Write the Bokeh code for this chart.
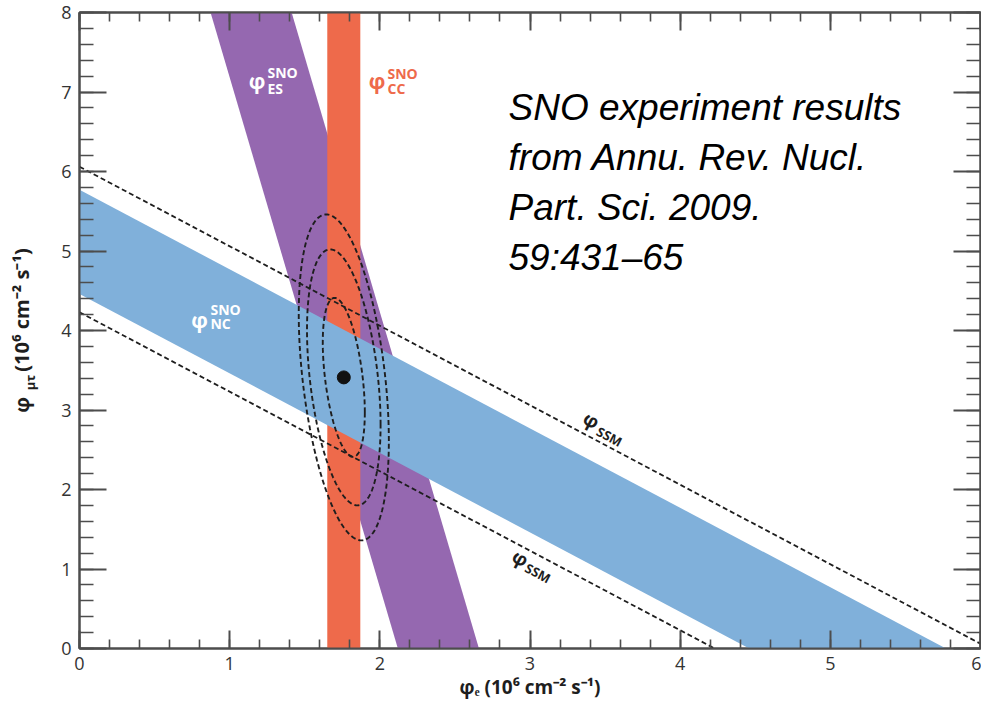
import numpy as np
from bokeh.plotting import figure
from bokeh.models import LinearAxis, SingleIntervalTicker, Label, CustomJSTickFormatter
from bokeh.embed import file_html
from bokeh.resources import INLINE

# Flux bands, in units of 10^6 cm^-2 s^-1
cc_band = [1.65, 1.87]          # phi_e range allowed by charged-current events
es_band = [2.12, 2.66]          # phi_e + es_weight * phi_mutau allowed by elastic scattering
es_weight = 0.1559
nc_band = [4.46, 5.77]          # phi_e + phi_mutau allowed by neutral-current events
ssm_band = [4.23, 6.06]         # phi_e + phi_mutau predicted by the standard solar model

# Best fit and its 68 / 95 / 99 % contours
best_fit = [1.76, 3.41]
contour_sx = [0.14, 0.245, 0.30]
contour_sy = [1.00, 1.61, 2.05]
contour_rho = [-0.44, -0.37, -0.39]

x_ticks = [0, 1, 2, 3, 4, 5, 6]
y_ticks = [0, 1, 2, 3, 4, 5, 6, 7, 8]

X_MAX, Y_MAX = x_ticks[-1], y_ticks[-1]

PURPLE = "#9568b0"
ORANGE = "#ee6a4b"
BLUE = "#80b0da"
INK = "#1e1e1e"
AXIS = "#4d4d4d"
EN, EM = "\u2002", "\u2003"

p = figure(width=981, height=707, x_range=(0, X_MAX), y_range=(0, Y_MAX),
           output_backend="svg", toolbar_location=None,
           min_border_left=79, min_border_right=1, min_border_top=12, min_border_bottom=59,
           background_fill_color="white", border_fill_color="white")
p.grid.visible = False
p.outline_line_color = AXIS
p.outline_line_width = 2

# ES band: x + w*y between the two limits
p.patch([es_band[0], es_band[1], es_band[1] - es_weight * Y_MAX, es_band[0] - es_weight * Y_MAX],
        [0, 0, Y_MAX, Y_MAX], fill_color=PURPLE, line_color=None)
# CC band: vertical strip
p.patch([cc_band[0], cc_band[1], cc_band[1], cc_band[0]], [0, 0, Y_MAX, Y_MAX],
        fill_color=ORANGE, line_color=None)
# NC band: x + y between the two limits
p.patch([0, 0, nc_band[1], nc_band[0]], [nc_band[0], nc_band[1], 0, 0],
        fill_color=BLUE, line_color=None)

# SSM prediction lines
for s in ssm_band:
    xe = min(s, X_MAX)
    p.line([0, xe], [s, s - xe], line_color=INK, line_width=1.8, line_dash="5 3")

# Confidence contours around the best fit
t = np.linspace(0, 2 * np.pi, 240)
for sx, sy, rho in zip(contour_sx, contour_sy, contour_rho):
    ex = best_fit[0] + sx * np.cos(t)
    ey = best_fit[1] + sy * (rho * np.cos(t) + np.sqrt(1 - rho ** 2) * np.sin(t))
    p.line(ex, ey, line_color=INK, line_width=1.9, line_dash="5 3")

p.scatter([best_fit[0]], [best_fit[1]], size=13, color="#111111")


def style_axis(ax, major_in, minor_in, labelled):
    ax.ticker = SingleIntervalTicker(interval=1, num_minor_ticks=5)
    ax.major_tick_in = major_in
    ax.major_tick_out = 0
    ax.minor_tick_in = minor_in
    ax.minor_tick_out = 0
    ax.axis_line_color = AXIS
    ax.axis_line_width = 2
    ax.major_tick_line_color = AXIS
    ax.major_tick_line_width = 2
    ax.minor_tick_line_color = AXIS
    ax.minor_tick_line_width = 1.6
    if labelled:
        ax.major_label_text_font = "Open Sans"
        ax.major_label_text_font_size = "18px"
        ax.major_label_text_color = "#333333"
        ax.major_label_standoff = 8
    else:
        ax.formatter = CustomJSTickFormatter(code="return ''")
        ax.major_label_text_font_size = "1px"
        ax.major_label_standoff = 0


def style_title(ax, size):
    ax.axis_label_text_font = "Open Sans"
    ax.axis_label_text_font_size = f"{size}px"
    ax.axis_label_text_font_style = "bold"
    ax.axis_label_text_color = INK


bottom = p.below[0]
left = p.left[0]
style_axis(bottom, 18, 9, True)
style_axis(left, 27, 14, True)
top = LinearAxis()
right = LinearAxis()
style_axis(top, 18, 9, False)
style_axis(right, 27, 14, False)
p.add_layout(top, "above")
p.add_layout(right, "right")

# x title
bottom.axis_label = "φₑ (10⁶ cm⁻² s⁻¹)"
bottom.axis_label_standoff = 1
style_title(bottom, 19)

# y title: the subscript sits on the inner axis, the main text on an outer one
left.axis_label = "μτ" + EM * 8
left.axis_label_standoff = 19
style_title(left, 13)

ytitle = LinearAxis()
style_axis(ytitle, 0, 0, False)
ytitle.axis_line_color = None
ytitle.major_tick_line_color = None
ytitle.minor_tick_line_color = None
ytitle.axis_label = "φ" + EN * 2 + " (10⁶ cm⁻² s⁻¹)"
ytitle.axis_label_standoff = -16
style_title(ytitle, 20)
p.add_layout(ytitle, "left")


def lab(x, y, text, size, color, align="left", baseline="middle", angle=0.0,
        font="Open Sans", style="bold"):
    p.add_layout(Label(x=x, y=y, text=text, text_font=font, text_font_size=f"{size}px",
                       text_font_style=style, text_color=color, text_align=align,
                       text_baseline=baseline, angle=angle))


# Band labels
lab(1.182, 7.138, "φ", 21, "white", align="center")
lab(1.252, 7.239, "SNO", 14, "white")
lab(1.252, 7.050, "ES", 14, "white")

lab(1.981, 7.135, "φ", 21, ORANGE, align="center")
lab(2.051, 7.236, "SNO", 14, ORANGE)
lab(2.051, 7.049, "CC", 14, ORANGE)

lab(0.799, 4.138, "φ", 21, "white", align="center")
lab(0.872, 4.264, "SNO", 14, "white")
lab(0.872, 4.088, "NC", 14, "white")

# SSM line labels, following the slope of the lines on screen
slope = -np.arctan(79.5 / 150.17)
lab(3.409, 2.874, "φ", 19, INK, align="center", angle=slope)
lab(3.529, 2.667, "SSM", 13, INK, align="center", angle=slope)
lab(2.937, 1.138, "φ", 19, INK, align="center", angle=slope)
lab(3.053, 0.950, "SSM", 13, INK, align="center", angle=slope)

# Source note
note = ["SNO experiment results", "from Annu. Rev. Nucl.", "Part. Sci. 2009.", "59:431–65"]
for i, line in enumerate(note):
    lab(2.857, 6.805 - i * 0.629, line, 37, "black", baseline="alphabetic",
        font="Liberation Sans", style="italic")

open("out.html", "w").write(file_html(p, INLINE))
